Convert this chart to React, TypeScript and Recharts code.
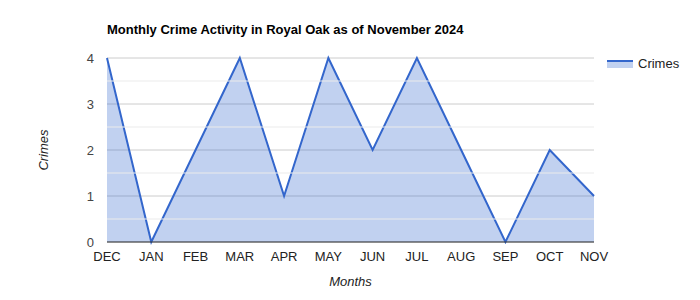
import React from "react";
import {
  AreaChart,
  Area,
  XAxis,
  YAxis,
  CartesianGrid,
  ReferenceLine,
} from "recharts";

const months = ["DEC", "JAN", "FEB", "MAR", "APR", "MAY", "JUN", "JUL", "AUG", "SEP", "OCT", "NOV"];
const crimes = [4, 0, 2, 4, 1, 4, 2, 4, 2, 0, 2, 1];
const yTicks = [0, 1, 2, 3, 4];
const minorTicks = [0.5, 1.5, 2.5, 3.5];

const data = months.map((m, i) => ({ month: m, crimes: crimes[i] }));

const FONT = "'Liberation Sans', Arial, sans-serif";
const BLUE = "#3366cc";

// legend drawn by hand so it doesn't push the plot down
function LegendBox() {
  return (
    <div
      style={{
        position: "absolute",
        left: 607,
        top: 56,
        display: "flex",
        alignItems: "center",
        fontSize: 13,
        color: "#222",
      }}
    >
      <svg width={27} height={10} style={{ marginRight: 4 }}>
        <rect x={0} y={2} width={26} height={7} fill={BLUE} fillOpacity={0.3} />
        <line x1={0} x2={26} y1={2} y2={2} stroke={BLUE} strokeWidth={2} />
      </svg>
      <span>Crimes</span>
    </div>
  );
}

export default function App() {
  return (
    <div style={{ position: "absolute", left: 0, top: 0, width: 700, height: 300, background: "#fff", fontFamily: FONT }}>
      <div
        style={{
          position: "absolute",
          left: 107,
          top: 22,
          fontSize: 13,
          fontWeight: "bold",
          color: "#000",
          whiteSpace: "nowrap",
        }}
      >
        Monthly Crime Activity in Royal Oak as of November 2024
      </div>
      <AreaChart
        width={700}
        height={300}
        data={data}
        margin={{ top: 58, right: 106, left: 0, bottom: 0 }}
        style={{ fontFamily: FONT }}
      >
        <CartesianGrid vertical={false} stroke="#cccccc" />
        {minorTicks.map((v) => (
          <ReferenceLine key={v} y={v} stroke="#ebebeb" />
        ))}
        <XAxis
          dataKey="month"
          height={58}
          interval={0}
          tickSize={0}
          tickMargin={10}
          axisLine={{ stroke: "#333", strokeWidth: 1 }}
          tick={{ fontSize: 13, fill: "#222" }}
          label={{ value: "Months", position: "insideBottom", offset: 14, fontSize: 13, fontStyle: "italic", fill: "#222" }}
        />
        <YAxis
          width={107}
          domain={[0, 4]}
          ticks={yTicks}
          tickSize={0}
          tickMargin={13}
          axisLine={false}
          tick={{ fontSize: 13, fill: "#444" }}
          label={{ value: "Crimes", angle: -90, position: "center", dx: -10, fontSize: 13, fontStyle: "italic", fill: "#222" }}
        />
        <Area
          type="linear"
          dataKey="crimes"
          name="Crimes"
          stroke={BLUE}
          strokeWidth={2}
          fill={BLUE}
          fillOpacity={0.3}
          dot={false}
          activeDot={false}
          isAnimationActive={false}
        />
      </AreaChart>
      <LegendBox />
    </div>
  );
}
